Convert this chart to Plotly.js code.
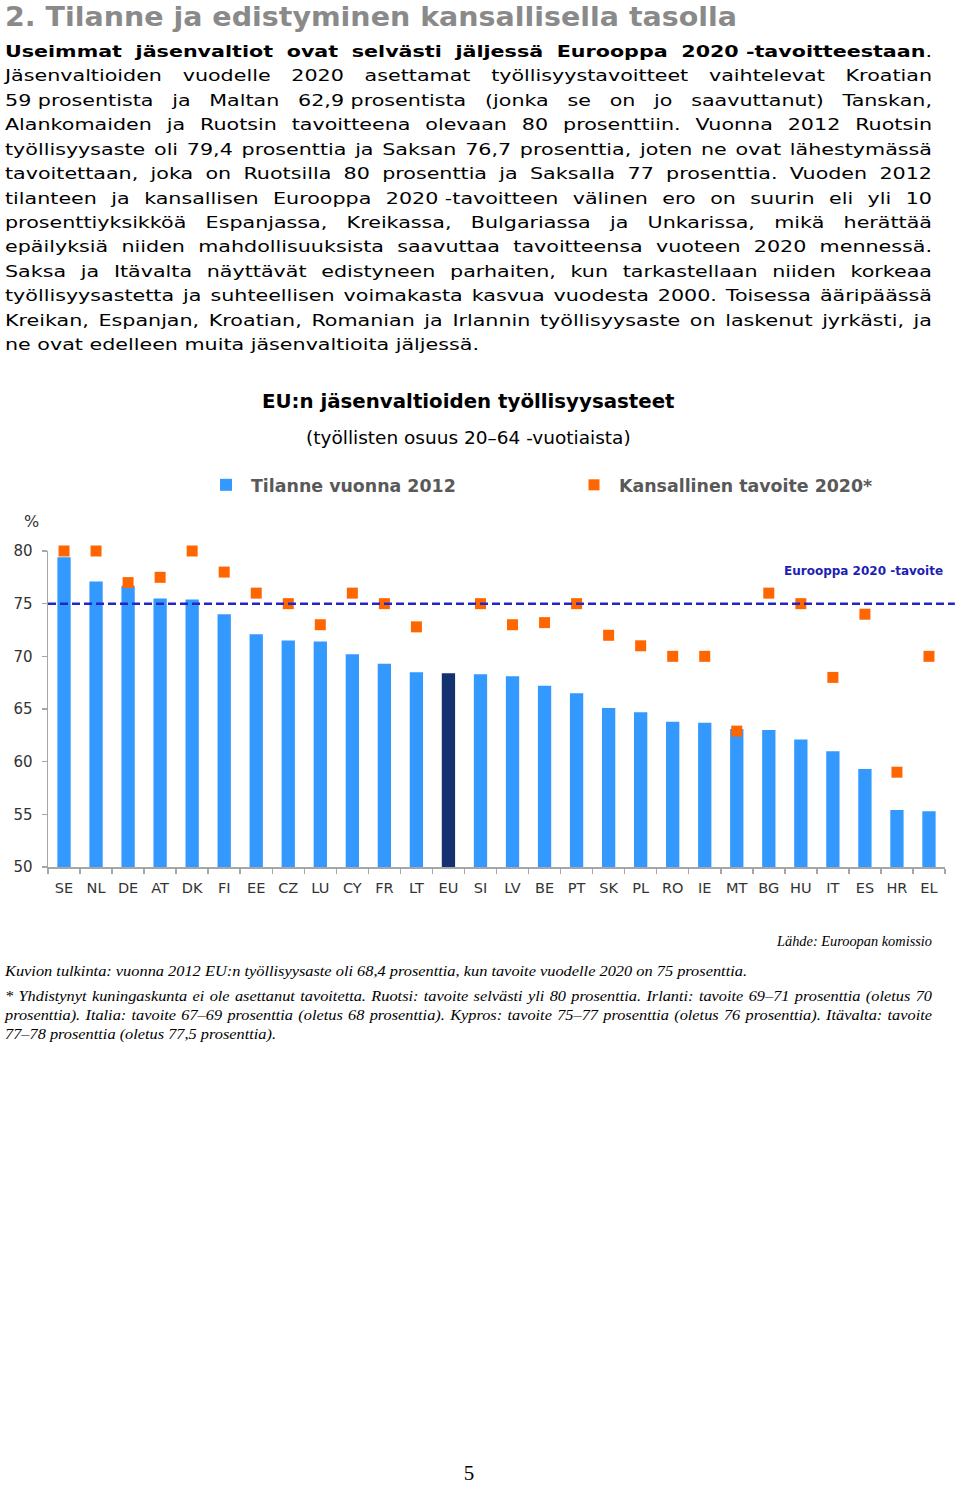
<!DOCTYPE html>
<html><head><meta charset="utf-8">
<script src="https://cdn.plot.ly/plotly-3.0.1.min.js"></script>
<style>
html,body{margin:0;padding:0;background:#fff;}
body{width:960px;height:1486px;position:relative;overflow:hidden;}
#chart{position:absolute;left:0;top:0;width:960px;height:1486px;z-index:0;}
.ln{position:absolute;white-space:nowrap;transform-origin:0 50%;z-index:1;color:#000;}
.j{white-space:normal;text-align:justify;text-align-last:justify;}
.sans{font-family:"DejaVu Sans";font-size:16.5px;}
.head{font-family:"DejaVu Sans";font-weight:bold;font-size:27px;color:#8a8a8a;}
.serif{font-family:"Liberation Serif";font-style:italic;font-size:15.5px;}
.nb{display:inline-block;}
</style></head>
<body>
<div id="chart"></div>
<script>
// ---------- data ----------
const countries = ['SE','NL','DE','AT','DK','FI','EE','CZ','LU','CY','FR','LT','EU','SI','LV','BE','PT','SK','PL','RO','IE','MT','BG','HU','IT','ES','HR','EL'];
const rate2012 = [79.4,77.1,76.7,75.5,75.4,74.0,72.1,71.5,71.4,70.2,69.3,68.5,68.4,68.3,68.1,67.2,66.5,65.1,64.7,63.8,63.7,63.1,63.0,62.1,61.0,59.3,55.4,55.3];
const target2020 = [80,80,77,77.5,80,78,76,75,73,76,75,72.8,null,75,73,73.2,75,72,71,70,70,62.9,76,75,68,74,59,70];
const euTarget = 75;
const yTicks = [50,55,60,65,70,75,80];
const seriesNames = ['Tilanne vuonna 2012','Kansallinen tavoite 2020*'];
const chartTitle = 'EU:n jäsenvaltioiden työllisyysasteet';
const chartSubtitle = '(työllisten osuus 20–64 -vuotiaista)';
const euLabel = 'Eurooppa 2020 -tavoite';
const unitLabel = '%';

// ---------- page texts ----------
const headingText = '2. Tilanne ja edistyminen kansallisella tasolla';
const bodyLines = [
 '<b>Useimmat jäsenvaltiot ovat selvästi jäljessä Eurooppa <span class="nb">2020 -tavoitteestaan</span></b>.',
 'Jäsenvaltioiden vuodelle 2020 asettamat työllisyystavoitteet vaihtelevat Kroatian',
 '<span class="nb">59 prosentista</span> ja Maltan <span class="nb">62,9 prosentista</span> (jonka se on jo saavuttanut) Tanskan,',
 'Alankomaiden ja Ruotsin tavoitteena olevaan 80 prosenttiin. Vuonna 2012 Ruotsin',
 'työllisyysaste oli 79,4 prosenttia ja Saksan 76,7 prosenttia, joten ne ovat lähestymässä',
 'tavoitettaan, joka on Ruotsilla 80 prosenttia ja Saksalla 77 prosenttia. Vuoden 2012',
 'tilanteen ja kansallisen Eurooppa <span class="nb">2020 -tavoitteen</span> välinen ero on suurin eli yli 10',
 'prosenttiyksikköä Espanjassa, Kreikassa, Bulgariassa ja Unkarissa, mikä herättää',
 'epäilyksiä niiden mahdollisuuksista saavuttaa tavoitteensa vuoteen 2020 mennessä.',
 'Saksa ja Itävalta näyttävät edistyneen parhaiten, kun tarkastellaan niiden korkeaa',
 'työllisyysastetta ja suhteellisen voimakasta kasvua vuodesta 2000. Toisessa ääripäässä',
 'Kreikan, Espanjan, Kroatian, Romanian ja Irlannin työllisyysaste on laskenut jyrkästi, ja',
 'ne ovat edelleen muita jäsenvaltioita jäljessä.'
];
const sourceText = 'Lähde: Euroopan komissio';
const readingText = 'Kuvion tulkinta: vuonna 2012 EU:n työllisyysaste oli 68,4 prosenttia, kun tavoite vuodelle 2020 on 75 prosenttia.';
const noteLines = [
 '* Yhdistynyt kuningaskunta ei ole asettanut tavoitetta. Ruotsi: tavoite selvästi yli 80 prosenttia. Irlanti: tavoite 69–71 prosenttia (oletus 70',
 'prosenttia). Italia: tavoite 67–69 prosenttia (oletus 68 prosenttia). Kypros: tavoite 75–77 prosenttia (oletus 76 prosenttia). Itävalta: tavoite',
 '77–78 prosenttia (oletus 77,5 prosenttia).'
];
const pageNumber = '5';

// ---------- text helpers ----------
function measure(html, cls) {
  const s = document.createElement('span');
  s.className = cls;
  s.style.cssText = 'position:absolute;left:0;top:0;visibility:hidden;white-space:nowrap;display:inline-block;';
  s.innerHTML = html;
  document.body.appendChild(s);
  const w = s.getBoundingClientRect().width;
  s.remove();
  return w;
}
function addLine(html, cls, cy, lh, left, s, justW) {
  const d = document.createElement('div');
  d.className = 'ln ' + cls + (justW ? ' j' : '');
  d.innerHTML = html;
  d.style.left = left + 'px';
  d.style.top = (cy - lh / 2) + 'px';
  d.style.lineHeight = lh + 'px';
  d.style.height = lh + 'px';
  if (justW) d.style.width = (justW / s) + 'px';
  d.style.transform = 'scaleX(' + s + ')';
  document.body.appendChild(d);
}
function drawTexts() {
  const hw = measure(headingText, 'head');
  addLine(headingText, 'head', 17, 28, 5, 732 / hw);
  const lastW = measure(bodyLines[bodyLines.length - 1], 'sans');
  const S = 474 / lastW;
  bodyLines.forEach((t, i) => {
    const cy = 52 + i * 24.42;
    if (i === bodyLines.length - 1) { addLine(t, 'sans', cy, 24, 5, S); return; }
    const w = measure(t, 'sans');
    const s = Math.min(S, 925 / w);
    addLine(t, 'sans', cy, 24, 5, s, 927);
  });
  const sw = measure(sourceText, 'serif');
  addLine(sourceText, 'serif', 941, 18, 777, 155 / sw);
  const rw = measure(readingText, 'serif');
  addLine(readingText, 'serif', 971, 18, 5, 742 / rw);
  const n3 = measure(noteLines[2], 'serif');
  const NS = 271 / n3;
  noteLines.forEach((t, i) => {
    const cy = 996 + i * 19;
    if (i === 2) { addLine(t, 'serif', cy, 18, 5, NS); return; }
    const w = measure(t, 'serif');
    const s = Math.min(NS, 925 / w);
    addLine(t, 'serif', cy, 18, 5, s, 927);
  });
  const p = document.createElement('div');
  p.className = 'ln';
  p.style.cssText = 'left:440px;width:58px;text-align:center;top:1460px;line-height:26px;font-family:"Liberation Serif";font-size:21px;';
  p.textContent = pageNumber;
  document.body.appendChild(p);
}

// ---------- chart ----------
const L = 48, R = 945, T = 551, B = 867;
const px = x => (x - L) / (R - L);
const py = y => (B - y) / (B - T);

const barColors = countries.map(c => c === 'EU' ? '#15316f' : '#3399ff');
const traces = [
  {
    type: 'bar', x: countries, y: rate2012, name: seriesNames[0],
    width: 0.415, marker: {color: barColors, line: {width: 0}},
    legend: 'legend', hoverinfo: 'skip'
  },
  {
    type: 'scatter', mode: 'markers', x: countries, y: target2020, name: seriesNames[1],
    marker: {symbol: 'square', size: 11, color: '#ff6600', line: {width: 0}},
    cliponaxis: false, legend: 'legend2', hoverinfo: 'skip'
  }
];
const tickFont = {family: 'DejaVu Sans', size: 14.5, color: '#333333'};
const legFont = {family: 'DejaVu Sans', size: 17.4, color: '#595959', weight: 'bold'};
const layout = {
  width: 960, height: 1486,
  margin: {l: L, r: 960 - R, t: T, b: 1486 - B, pad: 0},
  paper_bgcolor: 'rgba(0,0,0,0)', plot_bgcolor: 'rgba(0,0,0,0)',
  showlegend: true,
  xaxis: {
    type: 'category', range: [-0.5, 27.5], tickson: 'boundaries',
    ticks: 'outside', ticklen: 5, tickcolor: '#a6a6a6', tickwidth: 1.5,
    showline: true, linecolor: '#a6a6a6', linewidth: 1.5,
    showgrid: false, zeroline: false, tickfont: tickFont, fixedrange: true,
    ticklabelstandoff: 7
  },
  yaxis: {
    range: [50, 80], tickmode: 'array', tickvals: yTicks,
    ticks: 'outside', ticklen: 5, tickcolor: '#a6a6a6', tickwidth: 1.5,
    showline: true, linecolor: '#a6a6a6', linewidth: 1.5,
    showgrid: false, zeroline: false, tickfont: {family: 'DejaVu Sans', size: 15, color: '#333333'},
    ticklabelstandoff: 6, fixedrange: true
  },
  legend: {
    orientation: 'h', xref: 'container', yref: 'container',
    x: 201 / 960, y: (1486 - 485) / 1486, xanchor: 'left', yanchor: 'middle',
    font: legFont, bgcolor: 'rgba(0,0,0,0)', borderwidth: 0, itemwidth: 40
  },
  legend2: {
    orientation: 'h', xref: 'container', yref: 'container',
    x: 569 / 960, y: (1486 - 485) / 1486, xanchor: 'left', yanchor: 'middle',
    font: legFont, bgcolor: 'rgba(0,0,0,0)', borderwidth: 0, itemwidth: 40
  },
  shapes: [{
    type: 'line', xref: 'paper', yref: 'y', x0: 0, x1: 1.011, y0: euTarget, y1: euTarget,
    line: {color: '#2424c8', width: 2.5, dash: '8px,4px'}, layer: 'above'
  }],
  annotations: [
    {text: chartTitle, xref: 'paper', yref: 'paper', x: px(468.5), y: py(401), showarrow: false,
     xanchor: 'center', yanchor: 'middle', font: {family: 'DejaVu Sans', size: 19.8, color: '#000', weight: 'bold'}},
    {text: chartSubtitle, xref: 'paper', yref: 'paper', x: px(468), y: py(437), showarrow: false,
     xanchor: 'center', yanchor: 'middle', font: {family: 'DejaVu Sans', size: 18.5, color: '#000'}},
    {text: unitLabel, xref: 'paper', yref: 'paper', x: px(31), y: py(521), showarrow: false,
     xanchor: 'center', yanchor: 'middle', font: {family: 'DejaVu Sans', size: 16, color: '#333333'}},
    {text: euLabel, xref: 'paper', yref: 'paper', x: px(863), y: py(571), showarrow: false,
     xanchor: 'center', yanchor: 'middle', font: {family: 'DejaVu Sans', size: 12, color: '#1e1eb4', weight: 'bold'}}
  ]
};
drawTexts();
Plotly.newPlot('chart', traces, layout, {displayModeBar: false, staticPlot: true});
</script>
</body></html>
